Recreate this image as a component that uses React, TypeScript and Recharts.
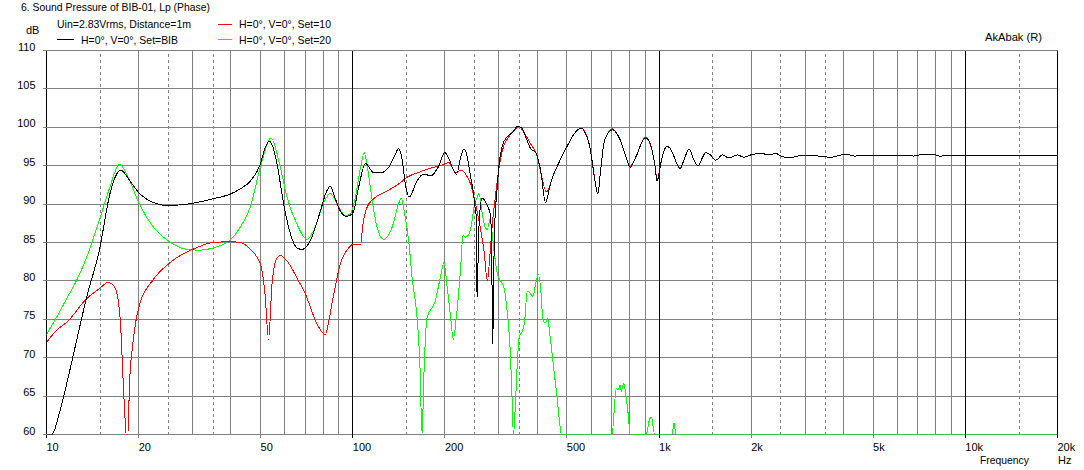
import React from 'react';
import { LineChart, Line, XAxis, YAxis, ReferenceLine } from 'recharts';

// Frequency ticks (Hz) and their labels
const xTicks = [10, 20, 50, 100, 200, 500, 1000, 2000, 5000, 10000, 20000];
const xTickLabels = ['10', '20', '50', '100', '200', '500', '1k', '2k', '5k', '10k', '20k'];
const yTicks = [60, 65, 70, 75, 80, 85, 90, 95, 100, 105, 110];

// Grid frequencies
const gridDecade = [10, 100, 1000, 10000, 20000];
const gridSolid = [20, 30, 40, 50, 60, 70, 80, 90, 200, 300, 400, 500, 600, 700, 800, 900, 2000, 3000, 4000, 5000, 6000, 7000, 8000, 9000];
const gridDashed = [15, 25, 35, 150, 250, 350, 1500, 2500, 3500, 15000];

// Series: [frequency Hz, SPL dB]
const setBIB: [number, number][] = [
  [10, 60], [10.4, 60], [11.07, 63.1], [11.64, 66.6], [12.55, 72.3], [13.53, 77.9], [14.88, 84], [16.1, 91.3],
  [16.75, 93.5], [17.5, 94.4], [18.74, 93], [20, 91.5], [22.35, 90.2], [25, 89.8], [27.3, 89.9], [30, 90.1],
  [35, 90.7], [39.8, 91.3], [43, 92], [46.3, 93], [49.9, 95.2], [51.8, 97.4], [53.4, 98.2], [55, 97.3],
  [56.6, 95.2], [59.5, 90], [62.6, 86.1], [65.7, 84.3], [68.3, 84.1], [72.6, 85.2], [78.4, 89.1], [81.8, 91.5],
  [84.5, 92.3], [87, 91.1], [91, 89.1], [95.8, 88.4], [100, 88.8], [104.5, 92.2], [110, 95.3], [117, 94.1],
  [124, 94.1], [131, 94.8], [137, 96.3], [141, 97.2], [145, 95.8], [148, 93], [152.7, 90.9], [162, 93],
  [170, 93.9], [180, 93.7], [190, 94.8], [200, 96.7], [206, 95.9], [214, 94.3], [218.4, 93.9], [225, 96.1],
  [230.8, 97.2], [236.6, 96.1], [242.6, 93.5], [247.6, 91.5], [250.8, 89.6], [252.6, 88.7], [253.8, 80.4],
  [255, 77.8], [257, 84.3], [259.6, 88.7], [264.9, 90.8], [271.6, 90.2], [278.5, 89.3], [282, 88.3],
  [284.2, 83.5], [286.4, 71.7], [289.3, 83.5], [291.4, 88.3], [295.1, 91.3], [300.4, 95.2], [308, 97.6],
  [319.8, 98.8], [332, 99.3], [344.9, 100.1], [355.4, 100], [367.2, 98.7], [381.2, 97.2], [395.9, 96.7],
  [411, 94.3], [425.6, 90.2], [442, 92.6], [453, 93.9], [470, 95.3], [488, 96.7], [507, 97.9], [527, 99.1],
  [556, 99.9], [582, 98.7], [594, 97.5], [604, 95.7], [618, 93], [631, 91.3], [645, 94.5], [660, 97.8],
  [680, 99.2], [706, 99.7], [725, 99.3], [748, 98.3], [775, 96.5], [806, 94.8], [825, 95.5], [848, 96.5],
  [875, 97.9], [902, 98.6], [925, 98.3], [949, 97], [970, 95], [985, 93], [995, 93.5], [1010, 95],
  [1035, 96.8], [1062, 97.5], [1090, 97.2], [1119, 96.2], [1145, 95.2], [1171, 94.6], [1210, 95.9],
  [1253, 97.2], [1301, 95.7], [1341, 95], [1380, 95.9], [1420, 96.7], [1470, 96.4], [1531, 95.7],
  [1611, 96.4], [1693, 96.0], [1803, 96.4], [1896, 96.1], [1993, 96.4], [2149, 96.6], [2300, 96.4],
  [2406, 96.6], [2498, 96.26], [2660, 96.04], [2903, 96.3], [3200, 96.3], [3639, 96.1], [3924, 96.4],
  [4075, 96.5], [4339, 96.26], [5000, 96.3], [6000, 96.3], [6813, 96.26], [7345, 96.52], [7920, 96.43],
  [8328, 96.22], [8537, 96.39], [10000, 96.39], [20000, 96.39],
];

const set10: [number, number][] = [
  [10, 72], [10.8, 73.6], [11.64, 74.6], [13.53, 77.7], [14.88, 79], [15.9, 79.8], [16.75, 79.1], [17.39, 75.2],
  [17.82, 66.5], [18.05, 62], [18.2, 60], [18.45, 60], [18.66, 66.5], [19.25, 72.6], [20, 76.5], [22.35, 80.2],
  [25, 82.2], [27.3, 83.3], [30, 84.1], [35, 85], [40, 85.1], [43, 85], [46.3, 84.1], [49.9, 82.2],
  [51.7, 78.3], [53.1, 72.4], [54.5, 79.6], [56.6, 83], [58, 83.3], [61, 82.6], [65.7, 80.4], [70, 78.3],
  [76.6, 74.3], [81.4, 73], [83.5, 74.8], [86.7, 78.3], [91.1, 82.2], [97, 84.3], [100.8, 84.8], [106, 84.8],
  [108, 87.4], [111.4, 89.6], [117, 90.7], [129.5, 91.7], [141, 92.6], [150.5, 93.5], [166, 94.2], [184, 94.8],
  [193.5, 95], [206, 95.4], [216.7, 94.1], [226, 94.4], [233.7, 93.9], [242.6, 92.6], [248.9, 90.9],
  [258.3, 87.8], [268.3, 83.9], [275, 80], [280.6, 83.5], [285.6, 87.4], [292.9, 91.3], [300.4, 94.8],
  [308, 97], [319.8, 98.5], [336.3, 99.6], [349.2, 100.1], [362.6, 99.3], [381.2, 97.8], [400.9, 96.1],
  [411, 94.1], [428.8, 91.6], [453, 93.9], [470, 95.3], [488, 96.7], [507, 97.9], [527, 99.1],
  [556, 99.9], [582, 98.8], [594, 97.5], [604, 95.8], [618, 93], [631, 91.4], [645, 94.5], [660, 97.8],
  [680, 99.2], [706, 99.8], [725, 99.3], [748, 98.3], [775, 96.5], [806, 94.9], [825, 95.5], [848, 96.5],
  [875, 97.9], [902, 98.7], [925, 98.3], [949, 97], [970, 95], [985, 93.2], [995, 93.6], [1010, 95],
  [1035, 96.8], [1062, 97.5], [1090, 97.2], [1119, 96.2], [1145, 95.2], [1171, 94.7], [1210, 95.9],
  [1253, 97.2], [1301, 95.7], [1341, 95], [1380, 95.9], [1420, 96.7], [1470, 96.4], [1531, 95.7],
  [1611, 96.4], [1693, 96.0], [1803, 96.4], [1896, 96.1], [1993, 96.4], [2149, 96.6], [2300, 96.4],
  [2406, 96.6], [2498, 96.26], [2660, 96.04], [2903, 96.3], [3200, 96.3], [3639, 96.1], [3924, 96.4],
  [4075, 96.5], [4339, 96.26], [5000, 96.3], [6000, 96.3], [6813, 96.26], [7345, 96.52], [7920, 96.43],
  [8328, 96.22], [8537, 96.39], [10000, 96.39], [20000, 96.39],
];

const set20: [number, number][] = [
  [10, 73], [10.8, 75.3], [11.64, 77.7], [12.55, 80.1], [13.53, 83.1], [14.88, 87.9], [16.1, 92.2], [17.3, 95.2],
  [18.27, 93.9], [20, 90.2], [22.35, 87], [25, 85.2], [28.7, 84.1], [31.8, 84], [35, 84.3], [40, 85.4],
  [42.9, 87], [46.3, 89.6], [49.9, 94.8], [54.1, 98.6], [58, 94.8], [61, 90.9], [65.7, 87.4], [70.9, 85.4],
  [75.4, 87], [80, 90], [84.5, 91.4], [88.9, 90], [94.5, 88.5], [98, 88.7], [102, 90.9], [106, 94.8],
  [109, 96.7], [112.5, 93.9], [115.8, 90.4], [120, 87], [126, 85.4], [134.5, 87], [141, 90], [144, 90.8],
  [148, 88.5], [152.3, 85.2], [156.2, 80.4], [162.2, 75.2], [165.5, 69.6], [168.4, 60], [170.6, 67.4],
  [174.8, 75.2], [186, 77.4], [193, 80.4], [198.5, 82.4], [203.5, 79.1], [208.7, 75.2], [212.9, 72.4],
  [218.4, 75.7], [225, 81.7], [229, 85.9], [233.7, 85.7], [237.8, 85.9], [243.8, 87.2], [250, 90],
  [255, 90.9], [258.3, 91.4], [264.9, 88.7], [270.3, 87], [275, 86.7], [280.6, 88], [284.2, 86.7],
  [289.3, 83.9], [296.6, 80.9], [304.1, 80], [311.9, 79.1], [319.8, 75.7], [326.3, 71.3], [330.4, 66.1],
  [334.6, 60], [338.8, 63], [343.1, 67.8], [349.2, 72.6], [358, 73.5], [364, 74.7], [371, 78.6],
  [377.6, 78.5], [387.2, 78], [397, 79.9], [404, 80.8], [412.2, 78.2], [417.4, 75.1], [424.8, 74.5],
  [433.4, 75.1], [438.9, 73.4], [446.7, 70.8], [455.8, 67.7], [465, 64.7], [473.2, 61.7], [479.2, 60],
  [701.9, 60], [725.2, 66], [734.3, 65.8], [747.3, 66.4], [752.9, 65.6], [766.3, 66.7], [781.8, 64.7],
  [795.7, 62.1], [803.8, 60], [906.6, 60], [932, 62], [943.8, 62.3], [967.8, 60], [1102.6, 60],
  [1119.4, 61.5], [1136.4, 60], [20000, 60],
];

const toRows = (arr: [number, number][]) => arr.map(([f, db]) => ({ f, db }));

const FONT = '"Liberation Sans", Arial, sans-serif';
const GRAY = '#808080';

const XTick = (props: any) => {
  const { x, y, payload } = props;
  const i = xTicks.indexOf(payload.value);
  const dec = gridDecade.includes(payload.value);
  return (
    <g>
      <line x1={x} x2={x} y1={y} y2={y + 3} stroke={dec ? '#000' : GRAY} strokeWidth={1} shapeRendering="crispEdges" />
      <text x={x} y={y + 16} textAnchor="start" fontSize={11} fontFamily={FONT} fill="#000">
        {xTickLabels[i]}
      </text>
    </g>
  );
};

const YTick = (props: any) => {
  const { x, y, payload } = props;
  return (
    <g>
      <line x1={x - 4} x2={x} y1={y} y2={y} stroke={GRAY} strokeWidth={1} shapeRendering="crispEdges" />
      <text x={x - 11} y={y} textAnchor="end" fontSize={11} fontFamily={FONT} fill="#000">
        {payload.value}
      </text>
    </g>
  );
};

export default function App() {
  const txt = { fontSize: 11, fontFamily: FONT, fill: '#000' } as const;
  return (
    <div style={{ position: 'absolute', left: 0, top: 0, width: 1084, height: 470, background: '#fff' }}>
      <LineChart
        width={1084}
        height={470}
        margin={{ top: 50.5, right: 26.5, left: 0, bottom: 0 }}
        style={{ position: 'absolute', left: 0, top: 0 }}
      >
        <XAxis
          dataKey="f"
          type="number"
          scale="log"
          domain={[10, 20000]}
          ticks={xTicks}
          interval={0}
          height={35.5}
          axisLine={false}
          tickLine={false}
          tickSize={0}
          tickMargin={0}
          tick={<XTick />}
          allowDataOverflow
        />
        <YAxis
          type="number"
          domain={[60, 110]}
          ticks={yTicks}
          interval={0}
          width={46.5}
          axisLine={false}
          tickLine={false}
          tickSize={0}
          tickMargin={0}
          tick={<YTick />}
          allowDataOverflow
        />
        {yTicks.map((v) => (
          <ReferenceLine key={'h' + v} y={v} stroke={GRAY} strokeWidth={1} shapeRendering="crispEdges" />
        ))}
        {gridSolid.map((v) => (
          <ReferenceLine key={'s' + v} x={v} stroke={GRAY} strokeWidth={1} shapeRendering="crispEdges" />
        ))}
        {gridDashed.map((v) => (
          <ReferenceLine key={'d' + v} x={v} stroke={GRAY} strokeWidth={1} strokeDasharray="3 3" shapeRendering="crispEdges" />
        ))}
        {gridDecade.map((v) => (
          <ReferenceLine key={'k' + v} x={v} stroke="#000" strokeWidth={1} shapeRendering="crispEdges" />
        ))}
        <Line data={toRows(set20)} dataKey="db" type="monotone" stroke="#00ff00" strokeWidth={1} dot={false} isAnimationActive={false} shapeRendering="crispEdges" />
        <Line data={toRows(set10)} dataKey="db" type="monotone" stroke="#ff0000" strokeWidth={1} dot={false} isAnimationActive={false} shapeRendering="crispEdges" />
        <Line data={toRows(setBIB)} dataKey="db" type="monotone" stroke="#000000" strokeWidth={1} dot={false} isAnimationActive={false} shapeRendering="crispEdges" />
      </LineChart>
      <svg width={1084} height={470} style={{ position: 'absolute', left: 0, top: 0, pointerEvents: 'none' }}>
        <text x={21} y={11} {...txt} textLength={189} lengthAdjust="spacingAndGlyphs">6. Sound Pressure of BIB-01, Lp (Phase)</text>
        <text x={57} y={28} {...txt} textLength={134} lengthAdjust="spacingAndGlyphs">Uin=2.83Vrms, Distance=1m</text>
        <text x={26} y={34} {...txt}>dB</text>
        <line x1={57} x2={74} y1={39.5} y2={39.5} stroke="#000" strokeWidth={1} shapeRendering="crispEdges" />
        <text x={81} y={43.5} {...txt} textLength={97} lengthAdjust="spacingAndGlyphs">H=0°, V=0°, Set=BIB</text>
        <line x1={218} x2={232} y1={24.5} y2={24.5} stroke="#ff0000" strokeWidth={1} shapeRendering="crispEdges" />
        <text x={239} y={28} {...txt} textLength={92} lengthAdjust="spacingAndGlyphs">H=0°, V=0°, Set=10</text>
        <line x1={218} x2={232} y1={39.5} y2={39.5} stroke="#00ff00" strokeWidth={1} shapeRendering="crispEdges" />
        <text x={239} y={43.5} {...txt} textLength={92} lengthAdjust="spacingAndGlyphs">H=0°, V=0°, Set=20</text>
        <text x={985} y={40.5} {...txt} textLength={57} lengthAdjust="spacingAndGlyphs">AkAbak (R)</text>
        <text x={980} y={464} {...txt} textLength={49} lengthAdjust="spacingAndGlyphs">Frequency</text>
        <text x={1058} y={464} {...txt}>Hz</text>
      </svg>
    </div>
  );
}
